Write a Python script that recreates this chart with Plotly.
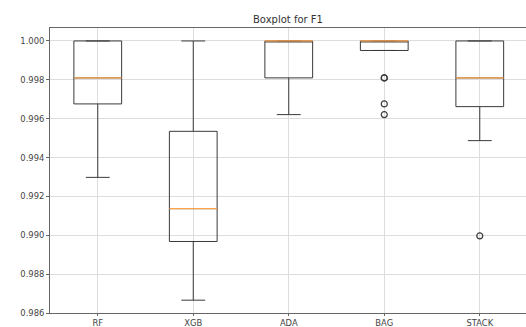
import plotly.graph_objects as go

models = ["RF", "XGB", "ADA", "BAG", "STACK"]
positions = [1, 2, 3, 4, 5]
q1 = [0.99676, 0.98968, 0.99810, 0.99951, 0.99662]
median = [0.99810, 0.99137, 1.00000, 1.00000, 0.99810]
q3 = [1.00000, 0.99535, 1.00000, 1.00000, 1.00000]
lower_whisker = [0.99298, 0.98666, 0.99621, 0.99951, 0.99487]
upper_whisker = [1.00000, 1.00000, 1.00000, 1.00000, 1.00000]
outlier_model = [4, 4, 4, 4, 5]
outlier_value = [0.99810, 0.99810, 0.99676, 0.99621, 0.98997]
y_ticks = [0.986, 0.988, 0.990, 0.992, 0.994, 0.996, 0.998, 1.000]

box_width = 0.5

fig = go.Figure()
fig.add_trace(go.Box(
    x=positions, q1=q1, median=median, q3=q3,
    lowerfence=lower_whisker, upperfence=upper_whisker,
    width=box_width, whiskerwidth=0.5,
    fillcolor="rgba(0,0,0,0)",
    line=dict(color="#3a3a3a", width=1),
    boxpoints=False, showlegend=False, hoverinfo="skip",
))

mx, my = [], []
for p, m in zip(positions, median):
    mx += [p - box_width / 2, p + box_width / 2, None]
    my += [m, m, None]
fig.add_trace(go.Scatter(
    x=mx, y=my, mode="lines",
    line=dict(color="#ffa24a", width=1.2),
    showlegend=False, hoverinfo="skip",
))

fig.add_trace(go.Scatter(
    x=outlier_model, y=outlier_value, mode="markers",
    marker=dict(symbol="circle-open", size=6, color="#3a3a3a", line=dict(width=1.2, color="#3a3a3a")),
    showlegend=False, hoverinfo="skip",
))

fig.update_layout(
    width=526, height=327,
    margin=dict(l=50, r=0, t=28, b=14),
    paper_bgcolor="white", plot_bgcolor="white",
    font=dict(family="DejaVu Sans", size=8.4, color="#444444"),
    title=dict(text="Boxplot for F1", x=0.5, xref="paper", xanchor="center",
               y=1 - 19 / 327, yanchor="middle",
               font=dict(size=10, color="#333333", family="DejaVu Sans")),
)
fig.update_xaxes(
    range=[0.5, 5.484], tickvals=positions, ticktext=models,
    showgrid=True, gridcolor="#dddddd", gridwidth=1,
    showline=True, linecolor="#666666", linewidth=1, mirror=True,
    ticks="outside", ticklen=2, tickcolor="#666666",
    zeroline=False, automargin=False,
)
fig.update_yaxes(
    range=[0.98600, 1.000667], tickvals=y_ticks,
    ticktext=[f"{v:.3f}" for v in y_ticks],
    showgrid=True, gridcolor="#dddddd", gridwidth=1,
    showline=True, linecolor="#666666", linewidth=1,
    ticks="outside", ticklen=3, tickcolor="#666666",
    zeroline=False, automargin=False,
)

fig.write_html(
    "out.html",
    config={"displayModeBar": False, "staticPlot": True},
    post_script="document.body.style.margin='0px';document.body.style.overflow='hidden';",
)
